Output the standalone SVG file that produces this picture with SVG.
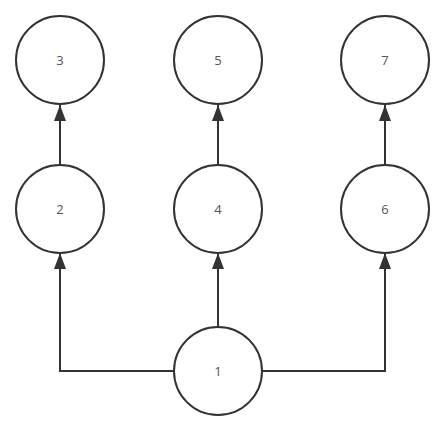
<svg xmlns="http://www.w3.org/2000/svg" width="440" height="423" viewBox="0 0 440 423">
<style>
.n circle{fill:#fff;stroke:#333;stroke-width:2}
.n text{font-family:"Open Sans","Liberation Sans",sans-serif;font-size:13px;fill:#555;text-anchor:middle;dominant-baseline:central}
.e{fill:none;stroke:#333;stroke-width:2}
</style>
<defs>
<marker id="a" viewBox="0 0 16 12" refX="16" refY="6" markerWidth="16" markerHeight="12" markerUnits="userSpaceOnUse" orient="auto">
<path d="M0,0L16,6L0,12z" fill="#333"/>
</marker>
</defs>
<rect width="440" height="423" fill="#fff"/>
<g id="edges">
<path class="e" d="M60,165V105" marker-end="url(#a)"/>
<path class="e" d="M218,165V105" marker-end="url(#a)"/>
<path class="e" d="M385,165V105" marker-end="url(#a)"/>
<path class="e" d="M218,327V253" marker-end="url(#a)"/>
<path class="e" d="M174,371H60V253" marker-end="url(#a)"/>
<path class="e" d="M262,371H385V253" marker-end="url(#a)"/>
</g>
<g id="n3" class="n"><circle cx="60" cy="60" r="44"/><text x="60" y="60">3</text></g>
<g id="n5" class="n"><circle cx="218" cy="60" r="44"/><text x="218" y="60">5</text></g>
<g id="n7" class="n"><circle cx="385" cy="60" r="44"/><text x="385" y="60">7</text></g>
<g id="n2" class="n"><circle cx="60" cy="209" r="44"/><text x="60" y="209">2</text></g>
<g id="n4" class="n"><circle cx="218" cy="209" r="44"/><text x="218" y="209">4</text></g>
<g id="n6" class="n"><circle cx="385" cy="209" r="44"/><text x="385" y="209">6</text></g>
<g id="n1" class="n"><circle cx="218" cy="371" r="44"/><text x="218" y="371">1</text></g>
</svg>
